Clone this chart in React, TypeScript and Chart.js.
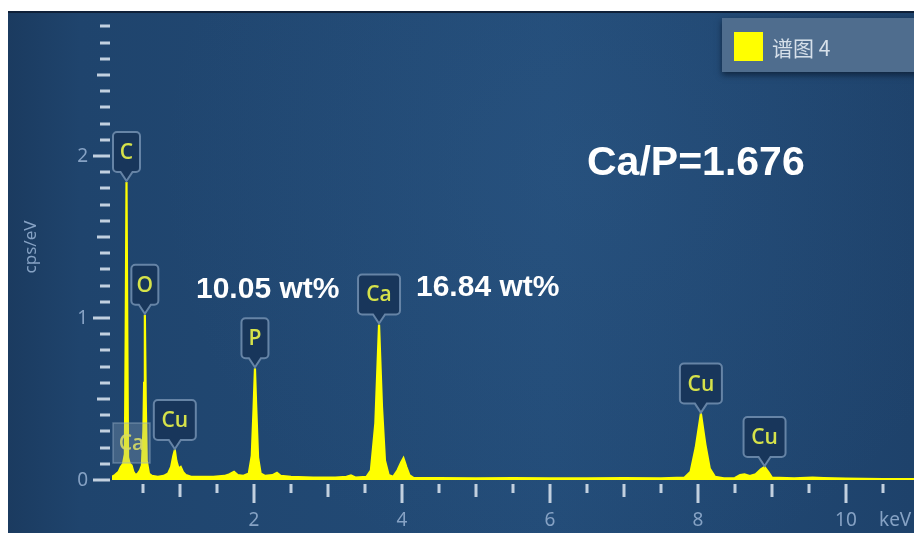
import React, { useEffect, useRef } from "react";
import { Chart, registerables } from "chart.js";

Chart.register(...registerables);

// Spectrum sampled as [energy keV, intensity cps/eV]
const spectrumEnergy = [
  0.081, 0.12, 0.17, 0.2, 0.23, 0.255, 0.266, 0.277, 0.288, 0.298, 0.32, 0.345, 0.37, 0.4, 0.43, 0.46,
  0.485, 0.505, 0.515, 0.525, 0.537, 0.55, 0.58, 0.62, 0.7, 0.78, 0.84, 0.88, 0.91, 0.93, 0.95, 0.98,
  1.01, 1.04, 1.08, 1.15, 1.3, 1.45, 1.6, 1.67, 1.73, 1.78, 1.85, 1.93, 1.97, 1.995, 2.013, 2.03,
  2.055, 2.09, 2.15, 2.25, 2.31, 2.36, 2.5, 2.8, 3.1, 3.25, 3.31, 3.37, 3.52, 3.58, 3.64, 3.69,
  3.73, 3.77, 3.82, 3.88, 3.94, 3.99, 4.02, 4.06, 4.1, 4.16, 4.5, 5.0, 5.5, 6.0, 6.5, 7.0,
  7.5, 7.82, 7.9, 7.97, 8.04, 8.1, 8.16, 8.23, 8.35, 8.5, 8.57, 8.63, 8.7, 8.78, 8.85, 8.9,
  8.95, 9.0, 9.3, 9.55, 9.7, 10.0, 10.5, 10.92,
];
const spectrumCps = [
  0.02, 0.03, 0.05, 0.08, 0.1, 0.16, 0.9, 1.84, 0.9, 0.14, 0.1, 0.09, 0.05, 0.03, 0.04, 0.06,
  0.09, 0.3, 0.6, 1.02, 0.5, 0.12, 0.04, 0.025, 0.02, 0.025, 0.04, 0.08, 0.15, 0.185, 0.12, 0.07,
  0.08, 0.05, 0.03, 0.02, 0.02, 0.02, 0.025, 0.035, 0.05, 0.03, 0.025, 0.04, 0.15, 0.45, 0.69, 0.45,
  0.14, 0.04, 0.025, 0.03, 0.045, 0.025, 0.02, 0.015, 0.015, 0.02, 0.028, 0.015, 0.02, 0.06, 0.35, 0.96,
  0.45, 0.12, 0.03, 0.02, 0.06, 0.11, 0.135, 0.08, 0.03, 0.012, 0.012, 0.01, 0.012, 0.01, 0.01, 0.012,
  0.01, 0.015, 0.05, 0.2, 0.41, 0.22, 0.07, 0.02, 0.01, 0.012, 0.03, 0.035, 0.025, 0.035, 0.065, 0.08,
  0.05, 0.015, 0.01, 0.015, 0.012, 0.008, 0.006, 0.005,
];

// Element line markers
const peakLabels = ["C", "O", "Cu", "P", "Ca", "Cu", "Cu"];
const peakEnergy = [0.277, 0.525, 0.93, 2.013, 3.69, 8.04, 8.9];
const peakCps = [1.84, 1.02, 0.185, 0.69, 0.96, 0.41, 0.08];
// Faint, overlapped Ca L marker
const faintLabel = "Ca";
const faintEnergy = 0.345;
const faintCps = 0.105;

// Axis ticks
const xLabelTicks = [2, 4, 6, 8, 10];
const yLabelTicks = [0, 1, 2];
const yTickTop = 2.8;
const xTickTop = 10.5;

const seriesName = "谱图 4";
const ratioText = "Ca/P=1.676";
const pWeight = "10.05 wt%";
const caWeight = "16.84 wt%";

function calloutPath(ctx: CanvasRenderingContext2D, cx: number, tipY: number, w: number, h: number) {
  const ptr = 9;
  const bottom = tipY - ptr;
  const top = bottom - h;
  const left = cx - w / 2;
  const right = cx + w / 2;
  const r = 4;
  ctx.beginPath();
  ctx.moveTo(left + r, top);
  ctx.lineTo(right - r, top);
  ctx.arcTo(right, top, right, top + r, r);
  ctx.lineTo(right, bottom - r);
  ctx.arcTo(right, bottom, right - r, bottom, r);
  ctx.lineTo(cx + 6, bottom);
  ctx.lineTo(cx, tipY);
  ctx.lineTo(cx - 6, bottom);
  ctx.lineTo(left + r, bottom);
  ctx.arcTo(left, bottom, left, bottom - r, r);
  ctx.lineTo(left, top + r);
  ctx.arcTo(left, top, left + r, top, r);
  ctx.closePath();
  return { top, bottom, left, right };
}

const panelPlugin = {
  id: "panel",
  beforeDraw(chart: any) {
    const ctx = chart.ctx as CanvasRenderingContext2D;
    const W = chart.width;
    const H = chart.height;
    ctx.save();
    ctx.fillStyle = "#ffffff";
    ctx.fillRect(0, 0, W, H);
    const lin = ctx.createLinearGradient(8, 0, W, 0);
    lin.addColorStop(0, "#1b3b60");
    lin.addColorStop(0.08, "#1f446d");
    lin.addColorStop(0.6, "#234c78");
    lin.addColorStop(1, "#1e426b");
    ctx.fillStyle = lin;
    ctx.fillRect(8, 11, W - 8, H - 11);
    const rad = ctx.createRadialGradient(580, 170, 20, 580, 170, 420);
    rad.addColorStop(0, "rgba(60,110,160,0.14)");
    rad.addColorStop(1, "rgba(60,110,160,0)");
    ctx.fillStyle = rad;
    ctx.fillRect(8, 11, W - 8, H - 11);
    ctx.fillStyle = "#0f2038";
    ctx.fillRect(8, 11, W - 8, 2);
    ctx.restore();
  },
  afterDraw(chart: any) {
    const ctx = chart.ctx as CanvasRenderingContext2D;
    const xs = chart.scales.x;
    const ys = chart.scales.y;
    const area = chart.chartArea;
    ctx.save();

    // y-axis tick marks
    ctx.fillStyle = "#c2d0df";
    const nY = Math.round(yTickTop * 10);
    for (let i = 0; i <= nY; i++) {
      const v = i / 10;
      const py = Math.round(ys.getPixelForValue(v));
      let len = 10;
      if (i % 10 === 0) len = 17;
      else if (i % 5 === 0) len = 13;
      ctx.fillRect(area.left - 2 - len, py - 1.5, len, 3);
    }
    ctx.font = "19px 'Noto Sans', sans-serif";
    ctx.fillStyle = "#86a2c4";
    ctx.textAlign = "right";
    ctx.textBaseline = "middle";
    yLabelTicks.forEach((v) => {
      ctx.fillText(String(v), area.left - 24, ys.getPixelForValue(v) + 1);
    });

    // x-axis tick marks
    ctx.fillStyle = "#c2d0df";
    const nX = Math.round(xTickTop * 2);
    for (let i = 1; i <= nX; i++) {
      const v = i / 2;
      const px = Math.round(xs.getPixelForValue(v));
      let len = 9;
      if (i % 4 === 0) len = 19;
      else if (i % 2 === 0) len = 13;
      ctx.fillRect(px - 1.5, area.bottom + 4, 3, len);
    }
    ctx.fillStyle = "#86a2c4";
    ctx.textAlign = "center";
    xLabelTicks.forEach((v) => {
      ctx.fillText(String(v), xs.getPixelForValue(v), area.bottom + 41);
    });
    ctx.textAlign = "left";
    ctx.fillText("keV", 879, area.bottom + 41);

    // y-axis title
    ctx.save();
    ctx.translate(31, 247);
    ctx.rotate(-Math.PI / 2);
    ctx.textAlign = "center";
    ctx.font = "17px 'Noto Sans', sans-serif";
    ctx.fillText("cps/eV", 0, 0);
    ctx.restore();

    // faint Ca L marker
    {
      const cx = xs.getPixelForValue(faintEnergy);
      const by = ys.getPixelForValue(faintCps);
      const w = 37;
      const h = 40;
      ctx.fillStyle = "rgba(150,170,190,0.3)";
      ctx.fillRect(cx - w / 2, by - h, w, h);
      ctx.strokeStyle = "rgba(150,175,200,0.45)";
      ctx.lineWidth = 1.5;
      ctx.strokeRect(cx - w / 2, by - h, w, h);
      ctx.fillStyle = "rgba(215,220,100,0.9)";
      ctx.font = "600 21px 'Open Sans', sans-serif";
      ctx.textAlign = "center";
      ctx.textBaseline = "middle";
      ctx.fillText(faintLabel, cx, by - h / 2 + 1);
    }

    // element callouts
    peakLabels.forEach((lab, i) => {
      const cx = xs.getPixelForValue(peakEnergy[i]);
      const tip = ys.getPixelForValue(peakCps[i]) - 1;
      const w = lab.length > 1 ? 42 : 27;
      const h = 40;
      const b = calloutPath(ctx, cx, tip, w, h);
      ctx.fillStyle = "#18365b";
      ctx.fill();
      ctx.strokeStyle = "#6684a6";
      ctx.lineWidth = 2;
      ctx.stroke();
      ctx.fillStyle = "#d6e24a";
      ctx.font = "600 21px 'Open Sans', sans-serif";
      ctx.textAlign = "center";
      ctx.textBaseline = "middle";
      ctx.fillText(lab, cx, (b.top + b.bottom) / 2 + 1);
    });

    // annotation texts
    ctx.fillStyle = "#ffffff";
    ctx.textAlign = "left";
    ctx.textBaseline = "middle";
    ctx.font = "bold 30px 'Liberation Sans', Arial, sans-serif";
    ctx.fillText(pWeight, 196, 290);
    ctx.fillText(caWeight, 416, 288);
    ctx.font = "bold 41px 'Liberation Sans', Arial, sans-serif";
    ctx.fillText(ratioText, 587, 164);

    // legend
    ctx.save();
    ctx.shadowColor = "rgba(5,15,30,0.6)";
    ctx.shadowBlur = 6;
    ctx.shadowOffsetY = 3;
    ctx.fillStyle = "#4f6d8e";
    ctx.fillRect(722, 18, 200, 54);
    ctx.restore();
    ctx.fillStyle = "#ffff00";
    ctx.fillRect(734, 32, 29, 29);
    ctx.fillStyle = "#d6e0ea";
    ctx.font = "21px 'Noto Sans CJK SC', sans-serif";
    ctx.textBaseline = "middle";
    ctx.fillText(seriesName, 772, 48);

    ctx.restore();
  },
};

export default function App() {
  const ref = useRef<HTMLCanvasElement | null>(null);
  useEffect(() => {
    if (!ref.current) return;
    const points = spectrumEnergy.map((e, i) => ({ x: e, y: spectrumCps[i] }));
    const chart = new Chart(ref.current, {
      type: "line",
      data: {
        datasets: [
          {
            label: seriesName,
            data: points,
            borderColor: "#ffff00",
            backgroundColor: "#ffff00",
            borderWidth: 2.2,
            pointRadius: 0,
            fill: "origin",
            tension: 0,
          },
        ],
      },
      options: {
        responsive: false,
        animation: false,
        devicePixelRatio: 1,
        layout: { padding: { left: 112, right: 0, top: 18, bottom: 53 } },
        plugins: { legend: { display: false }, tooltip: { enabled: false } },
        scales: {
          x: { type: "linear", min: 0.081, max: 10.92, display: false },
          y: { type: "linear", min: 0, max: 2.852, display: false },
        },
      },
      plugins: [panelPlugin],
    });
    return () => chart.destroy();
  }, []);
  return (
    <div style={{ position: "fixed", left: 0, top: 0, width: 914, height: 533 }}>
      <canvas ref={ref} width={914} height={533} style={{ width: 914, height: 533, display: "block" }} />
    </div>
  );
}
